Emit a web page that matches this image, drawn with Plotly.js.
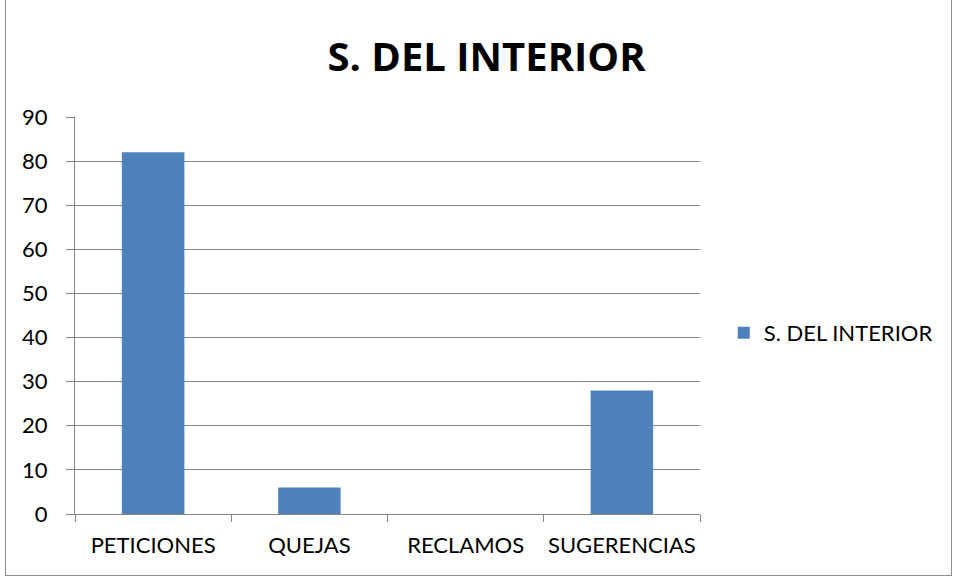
<!DOCTYPE html>
<html>
<head>
<meta charset="utf-8">
<script src="https://cdn.plot.ly/plotly-3.0.1.min.js"></script>
<style>
  html, body { margin: 0; padding: 0; background: #fff; }
  #chart { width: 954px; height: 578px; }
  #frame { position: absolute; left: 5px; top: -2px; width: 945px; height: 576px; border: 1px solid #8c8c8c; pointer-events: none; }
</style>
</head>
<body>
<div id="chart"></div>
<div id="frame"></div>
<script>
// categories and values
const categorias = ['PETICIONES', 'QUEJAS', 'RECLAMOS', 'SUGERENCIAS'];
const valores = [82, 6, 0, 28];
const serie = 'S. DEL INTERIOR';

const data = [{
    x: categorias,
    y: valores,
    type: 'bar',
    name: serie,
    width: 0.4,
    marker: { color: '#4F81BD' },
    showlegend: true
}];

const layout = {
    width: 954,
    height: 578,
    margin: { l: 75, r: 254, t: 117, b: 64 },
    paper_bgcolor: '#fff',
    plot_bgcolor: '#fff',
    font: { family: 'Lato, "Open Sans", sans-serif', color: '#000', size: 22 },
    title: {
        text: '<b>S. DEL INTERIOR</b>',
        font: { size: 40, family: '"Open Sans", Lato, sans-serif', color: '#000' },
        x: 0.51, xanchor: 'center',
        y: 0.902, yanchor: 'middle'
    },
    xaxis: {
        type: 'category',
        tickson: 'boundaries',
        ticks: 'outside',
        ticklen: 7,
        tickcolor: '#868686',
        showline: true,
        linecolor: '#868686',
        linewidth: 1,
        showgrid: false,
        tickangle: 0,
        tickfont: { size: 22 },
        ticklabelstandoff: 12
    },
    yaxis: {
        range: [0, 90],
        dtick: 10,
        ticks: 'outside',
        ticklen: 8,
        tickcolor: '#868686',
        showline: true,
        linecolor: '#868686',
        showgrid: true,
        gridcolor: '#868686',
        gridwidth: 1,
        zeroline: false,
        tickfont: { size: 22 },
        ticklabelstandoff: 14
    },
    legend: {
        x: 1.038, xanchor: 'left',
        y: 0.456, yanchor: 'middle',
        font: { size: 22 },
        itemwidth: 30
    },
    bargap: 0.6
};

Plotly.newPlot('chart', data, layout, { displayModeBar: false });
</script>
</body>
</html>
